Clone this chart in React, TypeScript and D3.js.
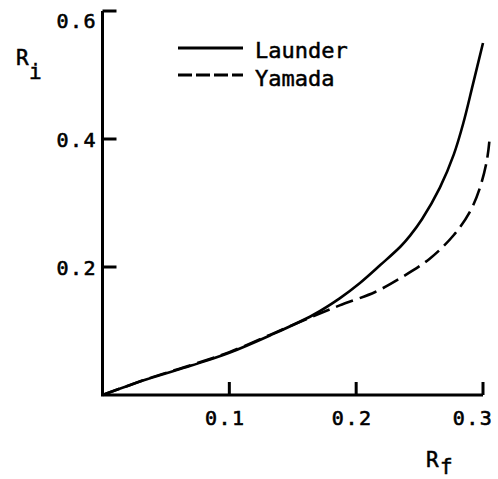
import * as d3 from "d3";

const W = 498;
const H = 479;

// Launder curve: [Rf, Ri]
const launder: [number, number][] = [
  [0, 0], [0.035, 0.0245], [0.07, 0.046], [0.1, 0.066], [0.132, 0.093],
  [0.166, 0.125], [0.187, 0.151], [0.203, 0.175], [0.219, 0.203],
  [0.235, 0.232], [0.2425, 0.249], [0.252, 0.275], [0.266, 0.324],
  [0.277, 0.376], [0.2845, 0.425], [0.292, 0.485], [0.3, 0.55],
];

// Yamada curve: [Rf, Ri]
const yamada: [number, number][] = [
  [0, 0], [0.035, 0.025], [0.07, 0.047], [0.1, 0.067], [0.132, 0.094],
  [0.166, 0.123], [0.187, 0.14], [0.215, 0.161], [0.236, 0.184],
  [0.258, 0.213], [0.277, 0.25], [0.29, 0.2875], [0.2976, 0.324],
  [0.303, 0.366], [0.305, 0.396],
];

const xTicks = [0.1, 0.2, 0.3];
const yTicks = [0.2, 0.4, 0.6];
const legendNames = ["Launder", "Yamada"];

const font = "'DejaVu Sans Mono', monospace";

export default function App() {
  const x = d3.scaleLinear().domain([0, 0.3]).range([102.5, 483]);
  const y = d3.scaleLinear().domain([0, 0.6]).range([395, 11]);

  const line = d3
    .line<[number, number]>()
    .x((d) => x(d[0]))
    .y((d) => y(d[1]))
    .curve(d3.curveCatmullRom.alpha(0.5));

  return (
    <svg
      width={W}
      height={H}
      style={{ position: "absolute", left: 0, top: 0, background: "#fff" }}
    >
      {/* axes */}
      <path
        d={`M${x(0)},${y(0.6)}V${y(0)}H${x(0.3)}`}
        fill="none"
        stroke="#000"
        strokeWidth={3}
      />
      {yTicks.map((t) => (
        <g key={"y" + t}>
          <line x1={x(0)} x2={x(0) + 14} y1={y(t)} y2={y(t)} stroke="#000" strokeWidth={3} />
          <text
            x={97}
            y={Math.max(y(t) + 8, 28)}
            textAnchor="end"
            fontFamily={font}
            fontSize={20}
            letterSpacing={1.5}
            stroke="#000"
            strokeWidth={0.6}
          >
            {d3.format(".1f")(t)}
          </text>
        </g>
      ))}
      {xTicks.map((t) => (
        <g key={"x" + t}>
          <line x1={x(t)} x2={x(t)} y1={y(0)} y2={y(0) - 13} stroke="#000" strokeWidth={3} />
          <text
            x={Math.min(x(t) - 4, 473)}
            y={425}
            textAnchor="middle"
            fontFamily={font}
            fontSize={20}
            letterSpacing={1.5}
            stroke="#000"
            strokeWidth={0.6}
          >
            {d3.format(".1f")(t)}
          </text>
        </g>
      ))}

      {/* axis titles */}
      <text fontFamily={font} fontSize={21} stroke="#000" strokeWidth={0.5}>
        <tspan x={16} y={65}>R</tspan>
        <tspan x={29} y={79}>i</tspan>
      </text>
      <text fontFamily={font} fontSize={21} stroke="#000" strokeWidth={0.5}>
        <tspan x={426} y={467}>R</tspan>
        <tspan x={440} y={474}>f</tspan>
      </text>

      {/* curves */}
      <path d={line(launder) ?? ""} fill="none" stroke="#000" strokeWidth={2.6} />
      <path
        d={line(yamada) ?? ""}
        fill="none"
        stroke="#000"
        strokeWidth={2.6}
        strokeDasharray="18 7"
      />

      {/* legend */}
      {legendNames.map((name, i) => (
        <g key={name}>
          <line
            x1={178}
            x2={243}
            y1={48 + i * 27}
            y2={48 + i * 27}
            stroke="#000"
            strokeWidth={2.8}
            strokeDasharray={i === 1 ? "14 4" : undefined}
          />
          <text
            x={255}
            y={58 + i * 28}
            fontFamily={font}
            fontSize={22}
            stroke="#000"
            strokeWidth={0.5}
          >
            {name}
          </text>
        </g>
      ))}
    </svg>
  );
}
